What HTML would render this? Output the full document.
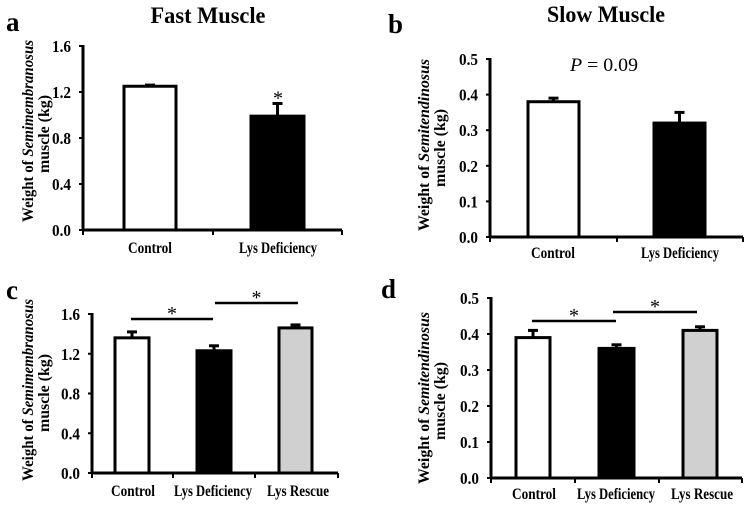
<!DOCTYPE html>
<html><head><meta charset="utf-8"><style>
html,body{margin:0;padding:0;background:#fff;}
svg{display:block;font-family:"Liberation Serif",serif;}
</style></head><body>
<svg id="s" width="752" height="505" viewBox="0 0 752 505" xmlns="http://www.w3.org/2000/svg">
<text x="208" y="23" text-anchor="middle" font-size="23" font-weight="bold" textLength="115" lengthAdjust="spacingAndGlyphs">Fast Muscle</text>
<text x="606" y="22" text-anchor="middle" font-size="23" font-weight="bold" textLength="118" lengthAdjust="spacingAndGlyphs">Slow Muscle</text>
</svg>
<script>
const NS="http://www.w3.org/2000/svg";
const svg=document.getElementById('s');
// data
const catsA=["Control","Lys Deficiency"];
const valsA=[1.25,0.99];
const errA=[0.01,0.11];
const ticksA=["0.0","0.4","0.8","1.2","1.6"];
const catsB=["Control","Lys Deficiency"];
const valsB=[0.38,0.32];
const errB=[0.01,0.03];
const ticksB=["0.0","0.1","0.2","0.3","0.4","0.5"];
const catsC=["Control","Lys Deficiency","Lys Rescue"];
const valsC=[1.36,1.23,1.46];
const errC=[0.06,0.05,0.03];
const ticksD=["0.0","0.1","0.2","0.3","0.4","0.5"];
const valsD=[0.39,0.36,0.41];
const errD=[0.02,0.01,0.01];
const fills=["#fff","#000","#d0d0d0"];
const labW={"Control":44,"Lys Deficiency":78,"Lys Rescue":62};

function el(tag,attrs,parent){const e=document.createElementNS(NS,tag);for(const k in attrs)e.setAttribute(k,attrs[k]);(parent||svg).appendChild(e);return e;}

function panel(p){
  const g=el('g',{});
  
  
  const ymax=parseFloat(p.ticks[p.ticks.length-1]);
  const y=v=>p.y0-(v/ymax)*(p.y0-p.y1);
  const L=el('text',{x:p.lx,y:p.ly,'font-size':27,'font-weight':'bold'},g);L.textContent=p.id;
  
  
  p.vals.forEach((v,i)=>{
    const [a,b]=p.bars[i];
    const top=y(v+p.err[i]);
    el('line',{x1:(a+b)/2,x2:(a+b)/2,y1:y(v),y2:top,stroke:'#000','stroke-width':3},g);
    el('line',{x1:(a+b)/2-5,x2:(a+b)/2+5,y1:top,y2:top,stroke:'#000','stroke-width':3},g);
    const r=el('rect',{x:a,y:y(v),width:b-a,height:p.y0-y(v),fill:fills[i],stroke:'#000','stroke-width':3},g);
    
    
    const t=el('text',{x:p.labx[i],y:p.laby,'text-anchor':'middle','font-size':15.5,'font-weight':'bold',textLength:labW[p.cats[i]]||60,lengthAdjust:'spacingAndGlyphs'},g);
    t.textContent=p.cats[i];
    
    
  });
  el('line',{x1:p.ax,x2:p.ax,y1:p.y1-1,y2:p.y0+1,stroke:'#000','stroke-width':3},g);
  el('line',{x1:p.ax,x2:p.xend,y1:p.y0,y2:p.y0,stroke:'#000','stroke-width':3},g);
  p.xt.forEach(x=>el('line',{x1:x,x2:x,y1:p.y0,y2:p.y0+5,stroke:'#000','stroke-width':2},g));
  el('line',{x1:p.ax,x2:p.ax,y1:p.y0,y2:p.y0+5,stroke:'#000','stroke-width':2},g);
  p.ticks.forEach(t=>{
    const v=parseFloat(t);
    el('line',{x1:p.ax-4,x2:p.ax,y1:y(v),y2:y(v),stroke:'#000','stroke-width':2},g);
    const tx=el('text',{x:p.ax-12,y:y(v)+6,'text-anchor':'end','font-size':17,'font-weight':'bold',textLength:19,lengthAdjust:'spacingAndGlyphs'},g);
    tx.textContent=t;
    
    
  });
  const yt=el('text',{transform:`translate(${p.yl1},${p.ymid}) rotate(-90)`,'text-anchor':'middle','font-size':16,'font-weight':'bold',textLength:p.tl,lengthAdjust:'spacingAndGlyphs'},g);
  yt.innerHTML='Weight of <tspan font-style="italic">'+p.muscle+'</tspan>';
  
  
  const yt2=el('text',{transform:`translate(${p.yl2},${p.ymid+3}) rotate(-90)`,'text-anchor':'middle','font-size':16,'font-weight':'bold',textLength:78,lengthAdjust:'spacingAndGlyphs'},g);
  yt2.textContent='muscle  (kg)';
  (p.sig||[]).forEach(s=>{
    el('line',{x1:s[0],x2:s[1],y1:s[2],y2:s[2],stroke:'#000','stroke-width':2.5},g);
    const st=el('text',{x:(s[0]+s[1])/2,y:s[2]+1,'text-anchor':'middle','font-size':20},g);
    st.textContent='*';
  });
  return {g,y};
}

const A=panel({id:'a',cats:catsA,vals:valsA,err:errA,ticks:ticksA,ax:83,y0:230,y1:46,xend:342,xt:[213,342],
  bars:[[124,176],[251,304]],labx:[150,278],laby:253,lx:6,ly:31,yl1:33,yl2:49,ymid:131,tl:182,muscle:'Semimembranosus'});
const sA=el('text',{x:278,y:A.y(valsA[1]+errA[1])+1,'text-anchor':'middle','font-size':20},A.g);sA.textContent='*';
const B=panel({id:'b',cats:catsB,vals:valsB,err:errB,ticks:ticksB,ax:490,y0:237,y1:59,xend:743,xt:[617,743],
  bars:[[528,579],[654,705]],labx:[553,680],laby:258,lx:388,ly:33,yl1:429,yl2:445,ymid:145,tl:172,muscle:'Semitendinosus'});
const pt=el('text',{x:604,y:71,'text-anchor':'middle','font-size':19,textLength:68,lengthAdjust:'spacingAndGlyphs'},B.g);pt.innerHTML='<tspan font-style="italic">P</tspan> = 0.09';


panel({id:'c',cats:catsC,vals:valsC,err:errC,ticks:ticksA,ax:92,y0:473,y1:314,xend:338,xt:[173,255,338],
  bars:[[115,149],[197,231],[279,312]],labx:[133,213,298],laby:496,lx:6,ly:299,yl1:33,yl2:49,ymid:390,tl:182,muscle:'Semimembranosus',
  sig:[[131,213,319],[215,298,303]]});
panel({id:'d',cats:catsC,vals:valsD,err:errD,ticks:ticksD,ax:491,y0:478,y1:298,xend:742,xt:[575,659,742],
  bars:[[516,550],[599,634],[683,717]],labx:[534,616,702],laby:499,lx:381,ly:298,yl1:429,yl2:445,ymid:398,tl:172,muscle:'Semitendinosus',
  sig:[[532,616,321],[613,697,312]]});
</script>
</body></html>
